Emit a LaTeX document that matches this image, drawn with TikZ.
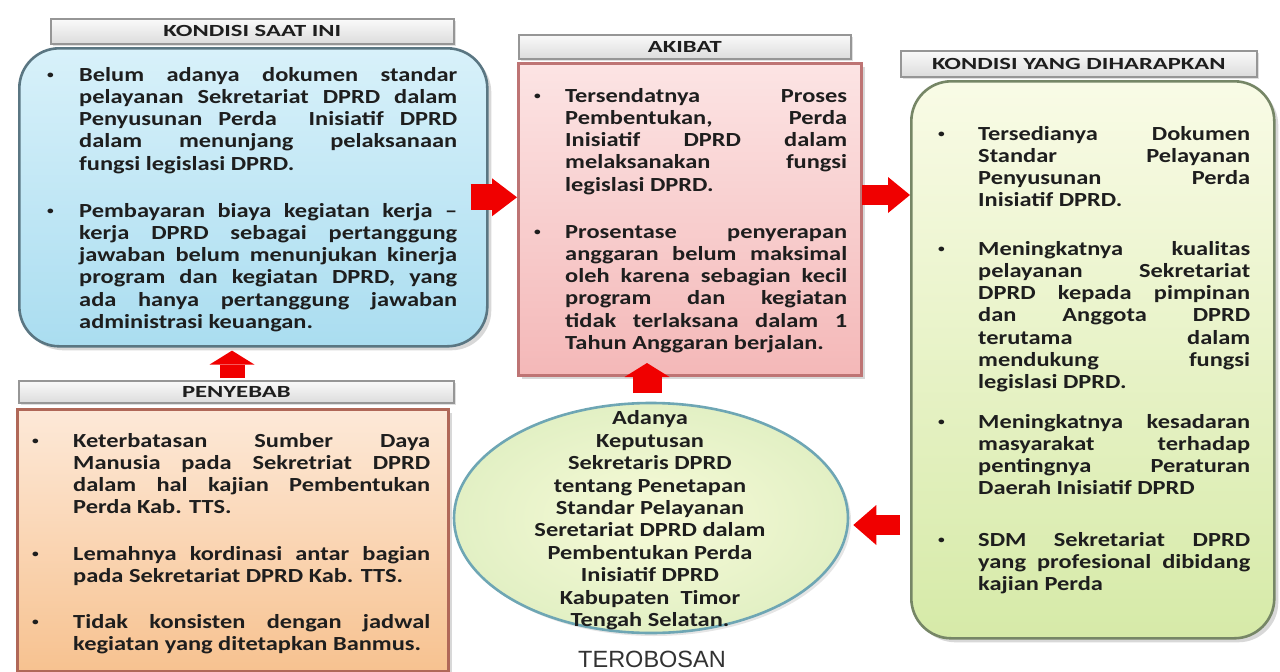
\documentclass[tikz,border=0pt]{standalone}
\usepackage{fontspec}
\usetikzlibrary{arrows.meta,shapes.geometric,shadows,calc}
\newfontfamily\bodyfont{Carlito}[FakeStretch=1.22]
\newfontfamily\titlefont{Carlito}[FakeStretch=1.45]
\newfontfamily\labfont{Liberation Sans}
\definecolor{arrowred}{RGB}{240,0,0}
\definecolor{textdark}{RGB}{30,30,30}
\definecolor{blueT}{RGB}{216,241,250}
\definecolor{blueB}{RGB}{170,221,240}
\definecolor{blueD}{RGB}{90,118,130}
\definecolor{pinkT}{RGB}{252,228,228}
\definecolor{pinkB}{RGB}{244,184,184}
\definecolor{pinkD}{RGB}{190,116,116}
\definecolor{orangeT}{RGB}{253,233,216}
\definecolor{orangeB}{RGB}{247,194,144}
\definecolor{orangeD}{RGB}{176,104,88}
\definecolor{greenT}{RGB}{249,251,230}
\definecolor{greenB}{RGB}{214,234,168}
\definecolor{greenD}{RGB}{118,134,102}
\definecolor{ellI}{RGB}{247,250,216}
\definecolor{ellO}{RGB}{226,240,196}
\definecolor{ellD}{RGB}{110,166,180}
\definecolor{titleT}{RGB}{250,250,250}
\definecolor{titleB}{RGB}{220,220,220}
\definecolor{titleD}{RGB}{150,150,150}
\newcommand\jl[1]{\makebox[\linewidth][s]{\strut#1}\par}
\newcommand\lastl[1]{\makebox[\linewidth][l]{\strut#1}\par}
\newcommand\smallbul{\hspace*{3pt}\raisebox{3pt}{\fontsize{11}{11}\selectfont\textbullet}}
\newcommand\bpara[3]{\makebox[#1][l]{\strut\smallbul}\parbox[t]{\dimexpr#2-#1\relax}{#3}}
\begin{document}
\begin{tikzpicture}[x=1pt,y=-1pt,
  titlebox/.style={anchor=north west, draw=titleD, line width=1.6pt, top color=titleT, bottom color=titleB,
    inner sep=0pt, font=\titlefont\bfseries\fontsize{17}{20}\selectfont, text=textdark,
    drop shadow={shadow xshift=2pt, shadow yshift=-2pt, opacity=0.25}},
  boxbase/.style={anchor=north west, line width=2.6pt, inner sep=0pt,
    drop shadow={shadow xshift=4pt, shadow yshift=-4pt, opacity=0.3}},
  bluebox/.style={boxbase, draw=blueD, top color=blueT, bottom color=blueB, rounded corners=40pt},
  pinkbox/.style={boxbase, draw=pinkD, top color=pinkT, bottom color=pinkB},
  orangebox/.style={boxbase, draw=orangeD, top color=orangeT, bottom color=orangeB},
  greenbox/.style={boxbase, draw=greenD, top color=greenT, bottom color=greenB, rounded corners=40pt},
  ellbox/.style={ellipse, draw=ellD, line width=2.6pt, inner sep=0pt, inner color=ellI, outer color=ellO,
    drop shadow={shadow xshift=3pt, shadow yshift=-3pt, opacity=0.2}},
  para/.style={anchor=north west, inner sep=0pt, text=textdark,
    font=\bodyfont\bfseries\fontsize{20}{22.2}\selectfont},
  redarrow/.style n args={3}{draw=arrowred, line width=#1,
    -{Triangle[width=#2, length=#3, line width=0pt]}}
]
\useasboundingbox (0,0) rectangle (1280,672);
\fill[white] (0,0) rectangle (1280,672);

% boxes
\node[bluebox, minimum width=468pt, minimum height=298pt] (blue) at (18,47) {};
\node[titlebox, minimum width=403pt, minimum height=25pt] (t1) at (50,18) {KONDISI SAAT INI};
\node[orangebox, minimum width=431pt, minimum height=262pt] (orange) at (16,408) {};
\node[titlebox, minimum width=435pt, minimum height=22pt] (t2) at (18,380) {PENYEBAB};
\node[pinkbox, minimum width=343pt, minimum height=312pt] (pink) at (517,62) {};
\node[titlebox, minimum width=332pt, minimum height=24pt] (t3) at (518,34) {AKIBAT};
\node[greenbox, minimum width=363pt, minimum height=557pt] (green) at (910,80) {};
\node[titlebox, minimum width=356pt, minimum height=26pt] (t4) at (900,50) {KONDISI YANG DIHARAPKAN};
\node[ellbox, minimum width=394pt, minimum height=230pt] (ell) at (651,518) {};

% blue text
\node[para] (b1) at (44,65.5) {\bpara{35pt}{413pt}{%
\jl{Belum adanya dokumen standar}
\jl{pelayanan Sekretariat DPRD dalam}
\jl{Penyusunan Perda \ Inisiatif DPRD}
\jl{dalam menunjang pelaksanaan}
\lastl{fungsi legislasi DPRD.}}};
\node[para] (b2) at (44,201.5) {\bpara{35pt}{413pt}{%
\jl{Pembayaran biaya kegiatan kerja –}
\jl{kerja DPRD sebagai pertanggung}
\jl{jawaban belum menunjukan kinerja}
\jl{program dan kegiatan DPRD, yang}
\jl{ada hanya pertanggung jawaban}
\lastl{administrasi keuangan.}}};

% pink text
\node[para] (p1) at (531,86.5) {\bpara{34pt}{316pt}{%
\jl{Tersendatnya Proses}
\jl{Pembentukan, Perda}
\jl{Inisiatif DPRD dalam}
\jl{melaksanakan fungsi}
\lastl{legislasi DPRD.}}};
\node[para] (p2) at (531,222.5) {\bpara{34pt}{316pt}{%
\jl{Prosentase penyerapan}
\jl{anggaran belum maksimal}
\jl{oleh karena sebagian kecil}
\jl{program dan kegiatan}
\jl{tidak terlaksana dalam 1}
\lastl{Tahun Anggaran berjalan.}}};

% green text
\node[para] (g1) at (935,124.5) {\bpara{43pt}{315pt}{%
\jl{Tersedianya Dokumen}
\jl{Standar Pelayanan}
\jl{Penyusunan Perda}
\lastl{Inisiatif DPRD.}}};
\node[para] (g2) at (935,239.5) {\bpara{43pt}{315pt}{%
\jl{Meningkatnya kualitas}
\jl{pelayanan Sekretariat}
\jl{DPRD kepada pimpinan}
\jl{dan Anggota DPRD}
\jl{terutama dalam}
\jl{mendukung fungsi}
\lastl{legislasi DPRD.}}};
\node[para] (g3) at (935,412.5) {\bpara{43pt}{315pt}{%
\jl{Meningkatnya kesadaran}
\jl{masyarakat terhadap}
\jl{pentingnya Peraturan}
\lastl{Daerah Inisiatif DPRD}}};
\node[para] (g4) at (935,530.5) {\bpara{43pt}{315pt}{%
\jl{SDM Sekretariat DPRD}
\jl{yang profesional dibidang}
\lastl{kajian Perda}}};

% orange text
\node[para] (o1) at (29,431.5) {\bpara{44pt}{401pt}{%
\jl{Keterbatasan Sumber Daya}
\jl{Manusia pada Sekretriat DPRD}
\jl{dalam hal kajian Pembentukan}
\lastl{Perda Kab. TTS.}}};
\node[para] (o2) at (29,544.5) {\bpara{44pt}{401pt}{%
\jl{Lemahnya kordinasi antar bagian}
\lastl{pada Sekretariat DPRD Kab. TTS.}}};
\node[para] (o3) at (29,612.5) {\bpara{44pt}{401pt}{%
\jl{Tidak konsisten dengan jadwal}
\lastl{kegiatan yang ditetapkan Banmus.}}};

% ellipse text
\node[anchor=north, inner sep=0pt, align=center, text=textdark,
  font=\bodyfont\bfseries\fontsize{20}{22.4}\selectfont] (ellt) at (650,409)
{\strut Adanya\\\strut Keputusan\\\strut Sekretaris DPRD\\\strut tentang Penetapan\\\strut Standar Pelayanan\\
\strut Seretariat DPRD dalam\\\strut Pembentukan Perda\\\strut Inisiatif DPRD\\\strut Kabupaten \ Timor\\\strut Tengah Selatan.};
\node[anchor=base, inner sep=0pt, text={rgb,255:red,50;green,50;blue,50},
  font=\labfont\fontsize{23.5}{26}\selectfont] (lab) at (652,667) {TEROBOSAN};

% arrows
\coordinate (a2) at (862,195);
\coordinate (a3) at (232,378);
\coordinate (a4) at (647,393);
\coordinate (a4e) at (647,363);
\coordinate (a5) at (900,525);
\draw[redarrow={26pt}{38pt}{25pt}] ([xshift=-18pt]blue.east) -- (blue.east -| pink.west);
\draw[redarrow={20pt}{36pt}{22pt}] (a2) -- (a2 -| green.west);
\draw[redarrow={25pt}{45pt}{14pt}] (a3) -- ([yshift=-3pt]a3 |- blue.south);
\draw[redarrow={29pt}{45pt}{14pt}] (a4) -- (a4e);
\draw[redarrow={20pt}{40pt}{23pt}] (a5) -- ([xshift=4pt]a5 -| ell.east);
\end{tikzpicture}
\end{document}
